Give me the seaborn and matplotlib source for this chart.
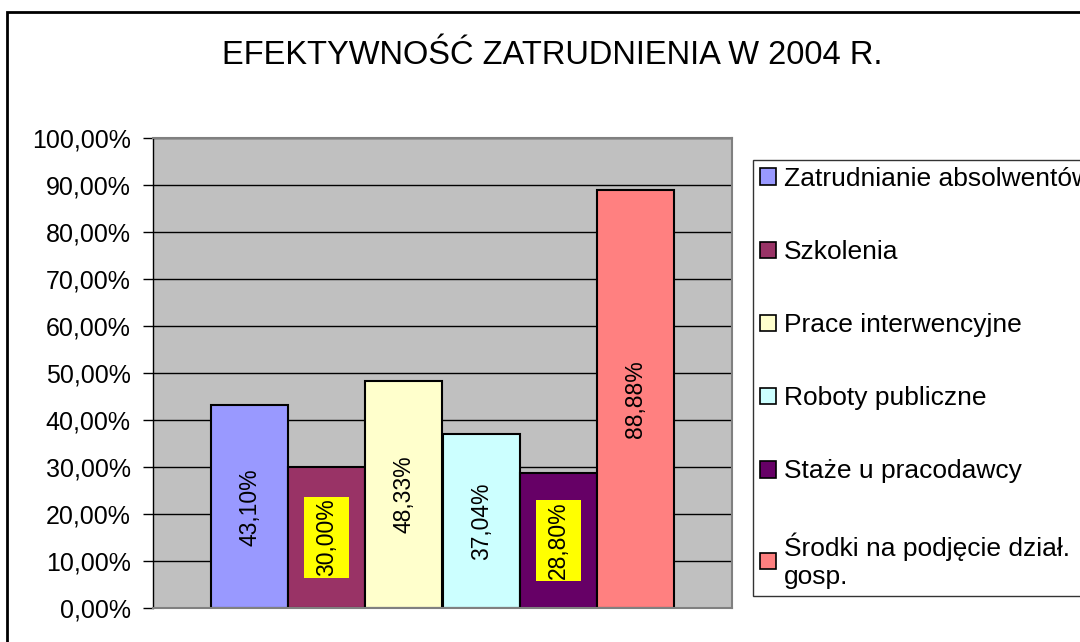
import pandas as pd
import seaborn as sns
import matplotlib.pyplot as plt
from matplotlib.patches import Patch, Rectangle
from matplotlib.path import Path
from matplotlib.ticker import FuncFormatter

programs = ["Zatrudnianie absolwentów", "Szkolenia", "Prace interwencyjne",
            "Roboty publiczne", "Staże u pracodawcy", "Środki na podjęcie dział.\ngosp."]
values = [43.10, 30.00, 48.33, 37.04, 28.80, 88.88]
colors = ["#9999FF", "#993366", "#FFFFCC", "#CCFFFF", "#660066", "#FF8080"]
highlighted = [False, True, False, False, True, False]

df = pd.DataFrame({"grupa": [""] * len(programs), "program": programs, "wartosc": values})

sns.set_style("white")
plt.rcParams["font.family"] = ["Liberation Sans", "DejaVu Sans"]
plt.rcParams["text.color"] = "black"
plt.rcParams["ytick.color"] = "black"


def yellow_box(x0, y0, width, height, mutation_size):
    # prostokąt z innym marginesem wzdłuż i w poprzek tekstu
    px, py = 1.5, 11
    pts = [(x0 - px, y0 - py), (x0 + width + px, y0 - py),
           (x0 + width + px, y0 + height + py), (x0 - px, y0 + height + py), (x0 - px, y0 - py)]
    return Path(pts, [Path.MOVETO, Path.LINETO, Path.LINETO, Path.LINETO, Path.CLOSEPOLY])


fig = plt.figure(figsize=(10.8, 6.42), dpi=100)
ax = fig.add_axes([153 / 1080, 1 - 608 / 642, (732 - 153) / 1080, (608 - 138) / 642])
ax.set_facecolor("#C0C0C0")

sns.barplot(data=df, x="grupa", y="wartosc", hue="program", palette=colors, saturation=1,
            edgecolor="black", linewidth=1.5, ax=ax, legend=False, width=0.8)

ax.set_ylim(0, 100)
ax.set_yticks(range(0, 101, 10))
ax.yaxis.set_major_formatter(FuncFormatter(lambda v, p: f"{v:.2f}%".replace(".", ",")))
ax.tick_params(axis="y", labelsize=18, length=7, width=1, color="black", direction="out",
               left=True, pad=9, labelcolor="black")
ax.tick_params(axis="x", bottom=False, labelbottom=False)
ax.set_xlabel("")
ax.set_ylabel("")
ax.grid(axis="y", color="black", linewidth=1)
ax.set_axisbelow(True)
for side in ["top", "right", "bottom"]:
    ax.spines[side].set_color("#808080")
    ax.spines[side].set_linewidth(1.5)
ax.spines["left"].set_color("black")
ax.spines["left"].set_linewidth(1)

# etykiety wartości w środku słupków
for cont, val, hl in zip(ax.containers, values, highlighted):
    txt = f"{val:.2f}%".replace(".", ",")
    labels = ax.bar_label(cont, labels=[txt], label_type="center", rotation=90,
                          fontsize=16.5, color="black")
    if hl:
        labels[0].set_bbox(dict(boxstyle=yellow_box, facecolor="#FFFF00", edgecolor="none"))

fig.text(552 / 1080, 1 - 55 / 642, "EFEKTYWNOŚĆ ZATRUDNIENIA W 2004 R.",
         ha="center", va="center", fontsize=23.5, color="black")

handles = [Patch(facecolor=c, edgecolor="black", linewidth=1.2) for c in colors]
leg = fig.legend(handles, programs, loc="upper left", bbox_to_anchor=(753 / 1080, 1 - 160 / 642),
                 fontsize=19, frameon=True, fancybox=False, edgecolor="black",
                 handlelength=0.6, handleheight=0.6, handletextpad=0.3,
                 labelspacing=1.86, borderpad=0.27, borderaxespad=0)
leg.get_frame().set_linewidth(1)

fig.patches.append(Rectangle((7 / 1080, -0.1), 1.2, (642 - 12) / 642 + 0.1, transform=fig.transFigure,
                             fill=False, edgecolor="black", linewidth=2, figure=fig))

fig.savefig("out.png", dpi=100)
